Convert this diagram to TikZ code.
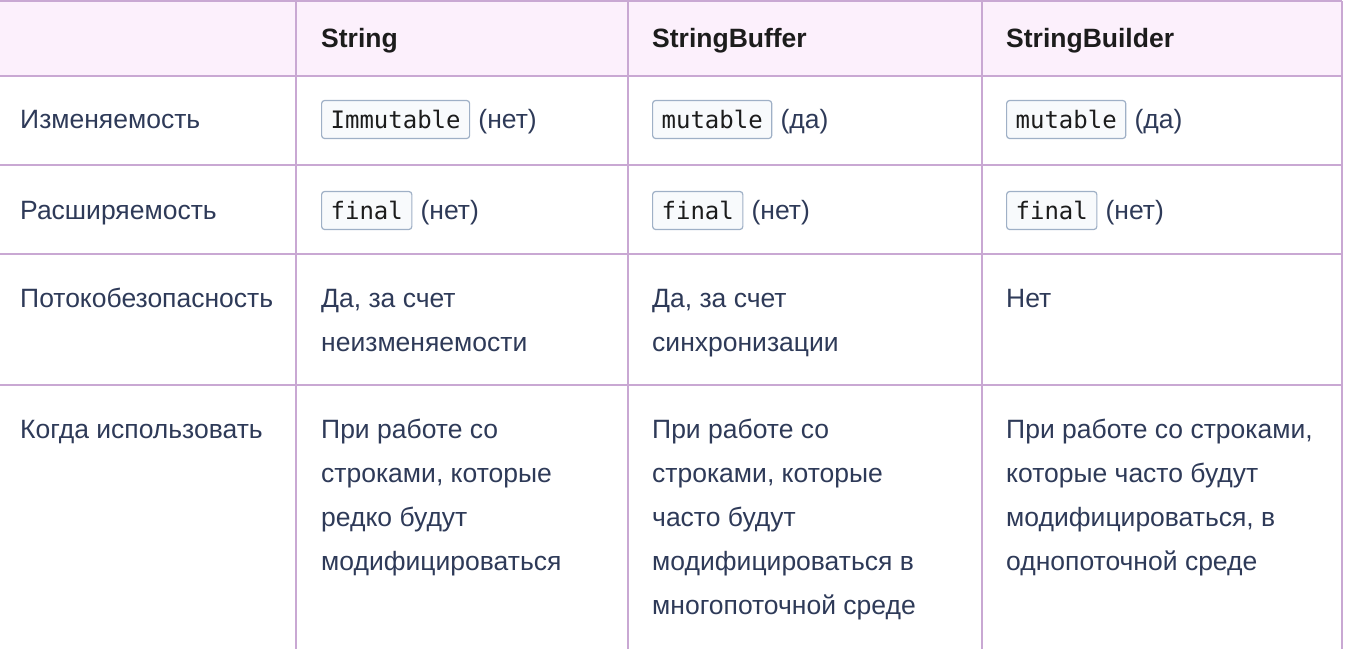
\documentclass[tikz,border=0pt]{standalone}
\usepackage{fontspec}
\setmainfont{Liberation Sans}
\newfontfamily\codefont{DejaVu Sans Mono}
\usetikzlibrary{positioning}
\definecolor{headfill}{HTML}{FCF0FC}
\definecolor{gridline}{HTML}{C9A8D3}
\definecolor{bodytext}{HTML}{2E3A58}
\definecolor{headtext}{HTML}{1C1C1C}
\definecolor{codefill}{HTML}{F8FAFC}
\definecolor{codeline}{HTML}{9FB0C6}
\tikzset{%
  cell/.style  = {inner sep=0pt, anchor=base west, align=left,%
                  text=bodytext, font=\fontsize{26.5}{44}\selectfont},%
  block/.style = {cell, anchor=north west},%
  head/.style  = {cell, text=headtext, font=\fontsize{26.5}{44}\selectfont\bfseries},%
  code/.style  = {draw=codeline, fill=codefill, rounded corners=3pt,%
                  line width=1.2pt, anchor=base west, inner xsep=9pt,%
                  inner ysep=7.5pt, text height=20pt, text depth=3pt,%
                  text=headtext, font=\codefont\fontsize{24}{28}\selectfont},%
  rule/.style  = {draw=gridline, line width=1.5pt}%
}

\begin{document}
\begin{tikzpicture}[x=1pt,y=-1pt]
	\useasboundingbox (0,0) rectangle (1346,649);
	% header band and grid
	\fill[headfill] (0,1) rectangle (1342,76);
	\foreach \y in {1,76,165,254,385}
		\draw[rule] (0,\y) -- (1342,\y);
	\foreach \x in {296,628,982,1342}
		\draw[rule] (\x,1) -- (\x,649);
	% header
	\node[head] (hstr) at (321,47) {String};
	\node[head] (hbuf) at (652,47) {StringBuffer};
	\node[head] (hbld) at (1006,47) {StringBuilder};
	% row 1
	\node[cell] (mut)  at (20,128) {Изменяемость};
	\node[code] (mutA) at (321,128) {Immutable};
	\node[cell] (muta) at ([xshift=8pt]mutA.base east) {(нет)};
	\node[code] (mutB) at (652,128) {mutable};
	\node[cell] (mutb) at ([xshift=8pt]mutB.base east) {(да)};
	\node[code] (mutC) at (1006,128) {mutable};
	\node[cell] (mutc) at ([xshift=8pt]mutC.base east) {(да)};
	% row 2
	\node[cell] (ext)  at (20,219) {Расширяемость};
	\node[code] (extA) at (321,219) {final};
	\node[cell] (exta) at ([xshift=8pt]extA.base east) {(нет)};
	\node[code] (extB) at (652,219) {final};
	\node[cell] (extb) at ([xshift=8pt]extB.base east) {(нет)};
	\node[code] (extC) at (1006,219) {final};
	\node[cell] (extc) at ([xshift=8pt]extC.base east) {(нет)};
	% row 3 (first baseline at 307)
	\node[cell]  (thr)  at (20,307) {Потокобезопасность};
	\node[block] (thra) at (321,276.2) {\strut Да, за счет\\неизменяемости};
	\node[block] (thrb) at (652,276.2) {\strut Да, за счет\\синхронизации};
	\node[cell]  (thrc) at (1006,307) {Нет};
	% row 4 (first baseline at 438)
	\node[cell]  (use)  at (20,438) {Когда использовать};
	\node[block] (usea) at (321,407.2) {\strut При работе со\\строками, которые\\редко будут\\модифицироваться};
	\node[block] (useb) at (652,407.2) {\strut При работе со\\строками, которые\\часто будут\\модифицироваться в\\многопоточной среде};
	\node[block] (usec) at (1006,407.2) {\strut При работе со строками,\\которые часто будут\\модифицироваться, в\\однопоточной среде};
\end{tikzpicture}
\end{document}
